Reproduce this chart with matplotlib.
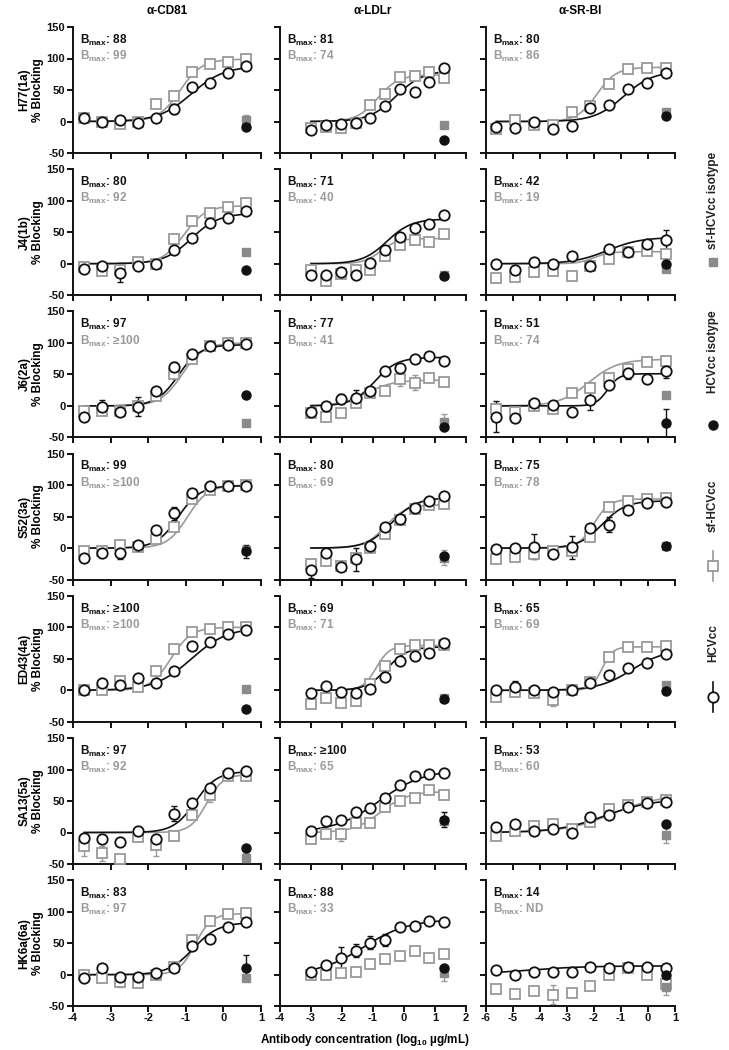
"""
Antibody blocking curves (HCVcc vs sf-HCVcc) for seven HCV isolates and
three receptor antibodies, redrawn as a 7 x 3 panel grid.
"""

import numpy as np
import matplotlib
matplotlib.use("Agg")
import matplotlib.pyplot as plt

plt.rcParams["font.family"] = ["Liberation Sans", "DejaVu Sans"]
plt.rcParams["font.weight"] = "bold"
plt.rcParams["axes.unicode_minus"] = False
plt.rcParams["mathtext.fontset"] = "custom"
plt.rcParams["mathtext.rm"] = "Liberation Sans:bold"
plt.rcParams["mathtext.it"] = "Liberation Sans:bold:italic"
plt.rcParams["mathtext.bf"] = "Liberation Sans:bold"

# ---------------------------------------------------------------- data
ISOLATES = ["H77(1a)", "J4(1b)", "J6(2a)", "S52(3a)", "ED43(4a)", "SA13(5a)", "HK6a(6a)"]
ANTIBODIES = ["α-CD81", "α-LDLr", "α-SR-BI"]

# log10 ug/mL antibody concentrations per antibody (last one = isotype dose)
X_CD81 = [-3.70, -3.22, -2.74, -2.26, -1.79, -1.31, -0.83, -0.35, 0.12, 0.60]
X_LDLR = [-3.00, -2.52, -2.04, -1.56, -1.09, -0.61, -0.13, 0.35, 0.82, 1.30]
X_SRBI = [-5.62, -4.92, -4.22, -3.52, -2.83, -2.13, -1.43, -0.73, -0.03, 0.67]

# % blocking, one row per isolate
CD81_HCV = [
    [5, -1, 2, -2, 5, 20, 54, 61, 77, 88],
    [-9, -4, -14, -4, -1, 22, 41, 64, 72, 84],
    [-18, -2, -10, -1, 24, 61, 83, 95, 97, 99],
    [-15, -8, -7, 5, 28, 55, 88, 98, 99, 98],
    [0, 12, 9, 20, 11, 31, 71, 76, 89, 95],
    [-8, -11, -15, 2, -10, 30, 47, 71, 94, 97],
    [-5, 11, -3, -3, 3, 11, 46, 56, 75, 83],
]
CD81_SF = [
    [5, 0, -4, -1, 27, 40, 78, 92, 95, 99],
    [-5, -12, -10, 3, 0, 40, 68, 80, 90, 97],
    [-8, -8, -8, 0, 15, 50, 75, 95, 100, 100],
    [-5, -5, 5, 2, 15, 33, 78, 92, 98, 100],
    [0, 0, 15, 5, 30, 65, 92, 98, 100, 100],
    [-22, -33, -42, -7, -20, -5, 27, 60, 89, 90],
    [0, -5, -12, -13, 0, 12, 55, 85, 97, 98],
]
LDLR_HCV = [
    [-13, -6, -4, -3, 5, 24, 51, 47, 63, 85],
    [-18, -18, -13, -18, 1, 22, 42, 57, 63, 77],
    [-9, 0, 11, 13, 23, 55, 60, 75, 79, 72],
    [-35, -8, -30, -18, 4, 33, 46, 63, 75, 83],
    [-4, 7, -3, -4, 2, 21, 47, 54, 60, 75],
    [3, 19, 20, 32, 39, 54, 75, 90, 93, 94],
    [5, 15, 26, 38, 51, 55, 75, 78, 86, 84],
]
LDLR_SF = [
    [-10, -9, -10, -2, 26, 44, 71, 72, 78, 69],
    [-10, -27, -17, -10, -10, 12, 30, 37, 35, 47],
    [-12, -18, -12, 5, 20, 23, 42, 37, 45, 38],
    [-25, -20, -28, -15, 0, 23, 45, 62, 68, 70],
    [-22, -12, -20, -17, 10, 38, 65, 72, 72, 72],
    [-10, -2, -3, 15, 15, 40, 50, 55, 68, 60],
    [0, 0, 2, 5, 17, 25, 30, 37, 27, 33],
]
SRBI_HCV = [
    [-9, -11, 0, -12, -7, 22, 26, 51, 61, 77],
    [0, -10, 2, 0, 13, -3, 24, 19, 31, 38],
    [-17, -19, 4, 1, -9, 9, 33, 53, 42, 55],
    [-2, 0, 2, -9, 1, 32, 37, 60, 72, 73],
    [0, 5, 0, -3, 1, 11, 25, 36, 44, 58],
    [8, 13, 3, 5, 0, 25, 27, 40, 47, 48],
    [8, -1, 4, 5, 5, 12, 11, 12, 12, 11],
]
SRBI_SF = [
    [-12, 2, -5, -5, 15, 25, 60, 83, 85, 85],
    [-22, -21, -13, -12, -19, -4, 8, 19, 20, 16],
    [-5, -10, 0, -5, 20, 28, 45, 58, 70, 72],
    [-18, -14, -10, -5, -5, 18, 65, 75, 78, 80],
    [-10, -2, -5, -15, 0, 13, 53, 68, 68, 70],
    [-5, 3, 10, 13, 5, 17, 37, 43, 48, 52],
    [-22, -30, -26, -32, -29, -18, 0, 10, 0, -15],
]

# isotype controls (one value per isolate)
CD81_ISO_HCV = [-9, -10, 17, -5, -30, -24, 11]
CD81_ISO_SF = [3, 18, -27, -3, 2, -40, -5]
LDLR_ISO_HCV = [-30, -20, -34, -12, -14, 20, 10]
LDLR_ISO_SF = [-6, -18, -25, -15, -12, 18, 2]
SRBI_ISO_HCV = [8, 0, -27, 4, -1, 14, -1]
SRBI_ISO_SF = [15, -8, 18, 3, 8, -4, -20]

# Bmax annotations
CD81_BMAX_HCV = ["88", "80", "97", "99", "≥100", "97", "83"]
CD81_BMAX_SF = ["99", "92", "≥100", "≥100", "≥100", "92", "97"]
LDLR_BMAX_HCV = ["81", "71", "77", "80", "69", "≥100", "88"]
LDLR_BMAX_SF = ["74", "40", "41", "69", "71", "65", "33"]
SRBI_BMAX_HCV = ["80", "42", "51", "75", "65", "53", "14"]
SRBI_BMAX_SF = ["86", "19", "74", "78", "69", "60", "ND"]

# fitted dose-response curves: (top, logEC50, hill slope); None = no fit drawn
CD81_FIT_HCV = [(88, -0.85, 1.0), (80, -0.85, 1.2), (97, -1.2, 1.5), (99, -1.2, 1.5),
                (100, -0.85, 0.9), (97, -0.75, 1.5), (83, -0.8, 1.3)]
CD81_FIT_SF = [(99, -1.15, 1.5), (92, -1.05, 1.5), (100, -1.1, 1.5), (100, -0.95, 1.6),
               (100, -1.4, 1.6), (92, -0.45, 2.0), (97, -0.75, 2.0)]
LDLR_FIT_HCV = [(81, -0.25, 1.0), (71, -0.55, 1.1), (77, -0.95, 1.2), (80, -0.4, 1.1),
                (69, -0.55, 1.3), (100, -0.8, 0.6), (88, -1.3, 0.6)]
LDLR_FIT_SF = [(74, -0.85, 1.3), (40, -0.75, 1.6), (41, -1.2, 1.0), (69, -0.6, 1.3),
               (71, -0.9, 2.0), (65, -0.75, 1.0), None]
SRBI_FIT_HCV = [(80, -0.9, 0.8), (42, -1.5, 0.7), (51, -1.5, 2.0), (75, -1.7, 1.0),
                (65, -0.6, 0.7), (53, -1.6, 0.5), (14, -4.5, 0.4)]
SRBI_FIT_SF = [(86, -1.9, 1.2), (19, -2.0, 1.5), (74, -2.2, 0.8), (78, -2.0, 1.5),
               (69, -1.7, 2.2), (60, -1.3, 0.5), None]

# visible error bars: (row, col, series, point index or -1 for isotype, SEM)
ERRORS = [
    (0, 0, "hcv", 5, 8), (0, 0, "iso_sf", -1, 8),
    (1, 0, "hcv", 2, 15), (1, 2, "hcv", 9, 15),
    (2, 0, "hcv", 1, 12), (2, 0, "hcv", 3, 15), (2, 0, "hcv", 5, 8),
    (2, 1, "hcv", 2, 8), (2, 1, "hcv", 3, 12), (2, 1, "sf", 6, 10), (2, 1, "sf", 7, 12),
    (2, 1, "iso_sf", -1, 12),
    (2, 2, "hcv", 0, 25), (2, 2, "hcv", 5, 15), (2, 2, "hcv", 7, 10), (2, 2, "hcv", 9, 10),
    (2, 2, "iso_hcv", -1, 22),
    (3, 0, "hcv", 2, 10), (3, 0, "hcv", 5, 10), (3, 0, "iso_hcv", -1, 10),
    (3, 1, "hcv", 0, 12), (3, 1, "hcv", 3, 18), (3, 1, "hcv", 4, 8), (3, 1, "iso_sf", -1, 12),
    (3, 2, "hcv", 2, 20), (3, 2, "hcv", 4, 18), (3, 2, "hcv", 6, 12),
    (4, 2, "hcv", 1, 10), (4, 2, "sf", 3, 10),
    (5, 0, "hcv", 5, 12), (5, 0, "sf", 0, 15), (5, 0, "sf", 1, 12), (5, 0, "sf", 4, 18),
    (5, 0, "sf", 7, 12), (5, 0, "iso_sf", -1, 8),
    (5, 1, "iso_hcv", -1, 12), (5, 1, "sf", 2, 10), (5, 2, "iso_sf", -1, 12),
    (6, 0, "iso_hcv", -1, 20), (6, 0, "sf", 2, 8),
    (6, 1, "hcv", 2, 18), (6, 1, "hcv", 3, 10), (6, 1, "hcv", 4, 10), (6, 1, "hcv", 5, 10),
    (6, 1, "iso_sf", -1, 12),
    (6, 2, "sf", 3, 15), (6, 2, "iso_sf", -1, 12),
]

COLUMNS = [
    (X_CD81, CD81_HCV, CD81_SF, CD81_ISO_HCV, CD81_ISO_SF, CD81_BMAX_HCV, CD81_BMAX_SF,
     CD81_FIT_HCV, CD81_FIT_SF, [-4, -3, -2, -1, 0, 1]),
    (X_LDLR, LDLR_HCV, LDLR_SF, LDLR_ISO_HCV, LDLR_ISO_SF, LDLR_BMAX_HCV, LDLR_BMAX_SF,
     LDLR_FIT_HCV, LDLR_FIT_SF, [-4, -3, -2, -1, 0, 1, 2]),
    (X_SRBI, SRBI_HCV, SRBI_SF, SRBI_ISO_HCV, SRBI_ISO_SF, SRBI_BMAX_HCV, SRBI_BMAX_SF,
     SRBI_FIT_HCV, SRBI_FIT_SF, [-6, -5, -4, -3, -2, -1, 0, 1]),
]

BLACK = "#111111"
GREY = "#9a9a9a"
GREY_FILL = "#8a8a8a"

# ---------------------------------------------------------------- layout (px)
W, H = 729, 1050
COL_LEFT = [73, 280, 486]
COL_RIGHT = [261, 466, 675]
ROW_TOP0, ROW_STEP, ROW_H = 27, 142.2, 126


def hill(x, top, ec50, slope):
    return top / (1.0 + 10.0 ** ((ec50 - x) * slope))


def draw_err(ax, x, y, e, color):
    ax.errorbar([x], [y], yerr=[e], fmt="none", ecolor=color, elinewidth=1.0,
                capsize=2.2, capthick=1.0, zorder=2)


fig = plt.figure(figsize=(W / 100, H / 100), dpi=100)

for c, (xs, hcv, sf, iso_h, iso_s, bm_h, bm_s, fit_h, fit_s, xticks) in enumerate(COLUMNS):
    for r in range(len(ISOLATES)):
        top_px = ROW_TOP0 + ROW_STEP * r
        ax = fig.add_axes([COL_LEFT[c] / W, 1 - (top_px + ROW_H) / H,
                           (COL_RIGHT[c] - COL_LEFT[c]) / W, ROW_H / H])
        x = np.array(xs)
        x_iso = xs[-1]

        errs = {(s, i): e for (rr, cc, s, i, e) in ERRORS if rr == r and cc == c}
        for (s, i), e in errs.items():
            if s == "hcv":
                draw_err(ax, xs[i], hcv[r][i], e, BLACK)
            elif s == "sf":
                draw_err(ax, xs[i], sf[r][i], e, GREY)
            elif s == "iso_hcv":
                draw_err(ax, x_iso, iso_h[r], e, BLACK)
            else:
                draw_err(ax, x_iso, iso_s[r], e, GREY)

        xx = np.linspace(x.min(), x.max(), 200)
        if fit_s[r] is not None:
            ax.plot(xx, hill(xx, *fit_s[r]), color=GREY, lw=1.2, zorder=3)
        if fit_h[r] is not None:
            ax.plot(xx, hill(xx, *fit_h[r]), color=BLACK, lw=1.2, zorder=4)

        ax.plot(x, sf[r], ls="none", marker="s", ms=6.5, mfc="white", mec=GREY,
                mew=1.3, zorder=5)
        ax.plot(x, hcv[r], ls="none", marker="o", ms=7.5, mfc="white", mec=BLACK,
                mew=1.3, zorder=6)
        ax.plot([x_iso], [iso_s[r]], ls="none", marker="s", ms=6, color=GREY_FILL, zorder=7)
        ax.plot([x_iso], [iso_h[r]], ls="none", marker="o", ms=6.5, color=BLACK, zorder=8)

        ax.text(0.035, 0.895, r"B$_{\mathrm{max}}$: " + bm_h[r], transform=ax.transAxes,
                fontsize=8.5, fontweight="bold", color=BLACK, va="center", ha="left")
        ax.text(0.035, 0.765, r"B$_{\mathrm{max}}$: " + bm_s[r], transform=ax.transAxes,
                fontsize=8.5, fontweight="bold", color=GREY, va="center", ha="left")

        ax.set_xlim(xticks[0], xticks[-1])
        ax.set_ylim(-50, 150)
        ax.set_xticks(xticks)
        ax.set_yticks([-50, 0, 50, 100, 150])
        for side in ("top", "right"):
            ax.spines[side].set_visible(False)
        for side in ("left", "bottom"):
            ax.spines[side].set_linewidth(1.4)
            ax.spines[side].set_color(BLACK)
        ax.tick_params(direction="out", length=4, width=1.4, colors=BLACK,
                       labelsize=8, pad=1.5)
        ax.tick_params(axis="x", pad=1)
        for lab in ax.get_xticklabels() + ax.get_yticklabels():
            lab.set_fontweight("bold")

        if r != len(ISOLATES) - 1:
            ax.tick_params(labelbottom=False)
        if c != 0:
            ax.tick_params(labelleft=False)
        else:
            ax.set_ylabel(f"{ISOLATES[r]}\n% Blocking", fontsize=8.5, fontweight="bold",
                          labelpad=2, linespacing=1.15)
        if r == 0:
            ax.set_title(ANTIBODIES[c], fontsize=8.5, fontweight="bold", pad=9)

fig.text(0.5, 1 - 1040 / H, r"Antibody concentration (log$_{10}$ µg/mL)",
         ha="center", va="center", fontsize=8.5, fontweight="bold")

# ---------------------------------------------------------------- legend (right side)
leg = fig.add_axes([0, 0, 1, 1], facecolor="none")
leg.set_xlim(0, W)
leg.set_ylim(H, 0)
leg.axis("off")
lx = 713
leg.text(lx, 200, "sf-HCVcc isotype", rotation=90, ha="center", va="center",
         fontsize=8.5, fontweight="bold", color="#222222")
leg.plot([lx], [262], marker="s", ms=6, color=GREY_FILL, ls="none")
leg.text(lx, 352, "HCVcc isotype", rotation=90, ha="center", va="center",
         fontsize=8.5, fontweight="bold", color="#222222")
leg.plot([lx], [425], marker="o", ms=6.5, color=BLACK, ls="none")
leg.text(lx, 506, "sf-HCVcc", rotation=90, ha="center", va="center",
         fontsize=8.5, fontweight="bold", color="#222222")
leg.plot([lx, lx], [551, 581], color=GREY, lw=1.2)
leg.plot([lx], [566], marker="s", ms=6.5, mfc="white", mec=GREY, mew=1.3, ls="none")
leg.text(lx, 643, "HCVcc", rotation=90, ha="center", va="center",
         fontsize=8.5, fontweight="bold", color="#222222")
leg.plot([lx, lx], [682, 712], color=BLACK, lw=1.2)
leg.plot([lx], [697], marker="o", ms=7.5, mfc="white", mec=BLACK, mew=1.3, ls="none")

fig.savefig("out.png", dpi=100)
